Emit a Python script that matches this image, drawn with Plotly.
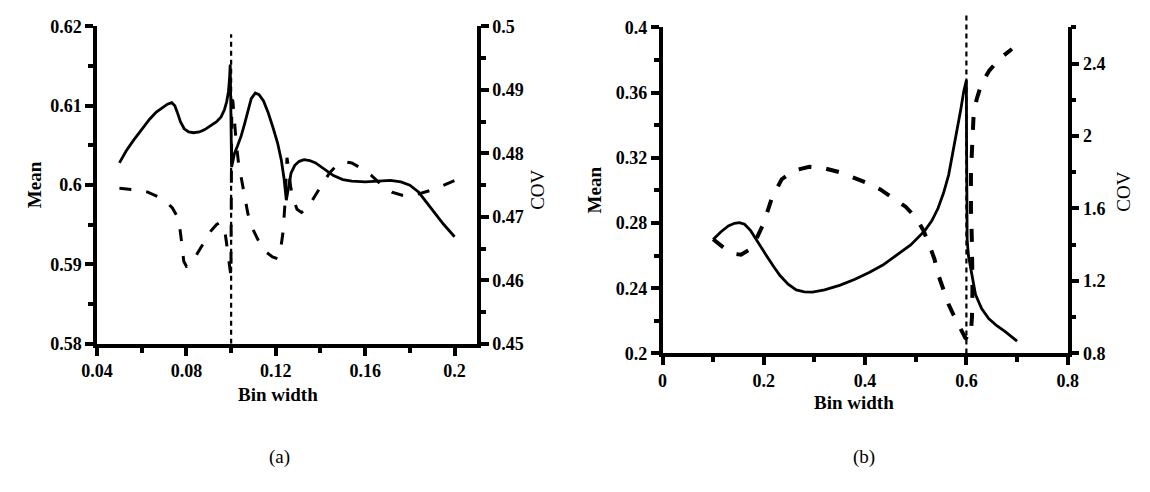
import plotly.graph_objects as go

# ---------------- data: panel (a) ----------------
a_mean_x = [0.0500, 0.0530, 0.0562, 0.0600, 0.0635, 0.0665, 0.0693, 0.0715, 0.0734, 0.0748,
            0.0760, 0.0773, 0.0790, 0.0810, 0.0832, 0.0858, 0.0882, 0.0910, 0.0935, 0.0955,
            0.0970, 0.0980, 0.0988, 0.0993, 0.0996, 0.0998, 0.1000, 0.1002, 0.1008, 0.1015,
            0.1028, 0.1045, 0.1060, 0.1075, 0.1090, 0.1108, 0.1125, 0.1145, 0.1165, 0.1188,
            0.1208, 0.1225, 0.1237, 0.1247, 0.1256, 0.1268, 0.1285, 0.1305, 0.1327, 0.1352,
            0.1378, 0.1415, 0.1458, 0.1500, 0.1540, 0.1600, 0.1660, 0.1713, 0.1760, 0.1800,
            0.1840, 0.1874, 0.1910, 0.1950, 0.2000]
a_mean_y = [0.6028, 0.6043, 0.6056, 0.6070, 0.6083, 0.6092, 0.6098, 0.6102, 0.6104, 0.6100,
            0.6091, 0.6080, 0.6071, 0.6067, 0.6066, 0.6067, 0.6070, 0.6075, 0.6080, 0.6086,
            0.6095, 0.6105, 0.6118, 0.6135, 0.6152, 0.6110, 0.6060, 0.6023, 0.6030, 0.6040,
            0.6049, 0.6062, 0.6077, 0.6095, 0.6109, 0.6116, 0.6114, 0.6106, 0.6092, 0.6072,
            0.6053, 0.6031, 0.6008, 0.5981, 0.5998, 0.6015, 0.6025, 0.6030, 0.6032, 0.6031,
            0.6028, 0.6021, 0.6012, 0.6007, 0.6005, 0.6004, 0.6005, 0.6006, 0.6004, 0.6000,
            0.5991, 0.5979, 0.5965, 0.5951, 0.5935]

a_cov_x = [0.0500, 0.0555, 0.0627, 0.0678, 0.0715, 0.0737, 0.0755, 0.0768, 0.0775, 0.0781,
           0.0788, 0.0800, 0.0815, 0.0838, 0.0862, 0.0885, 0.0910, 0.0935, 0.0950, 0.0962,
           0.0972, 0.0979, 0.0986, 0.0994, 0.0999, 0.1000, 0.1001, 0.1003, 0.1008, 0.1014,
           0.1022, 0.1033, 0.1045, 0.1060, 0.1075, 0.1094, 0.1123, 0.1155, 0.1185, 0.1208,
           0.1222, 0.1232, 0.1241, 0.1247, 0.1250, 0.1256, 0.1266, 0.1278, 0.1295, 0.1315,
           0.1345, 0.1375, 0.1405, 0.1440, 0.1475, 0.1505, 0.1540, 0.1580, 0.1625, 0.1675,
           0.1720, 0.1765, 0.1810, 0.1850, 0.1895, 0.1940, 0.2000]
a_cov_y = [0.4745, 0.4743, 0.4739, 0.4731, 0.4722, 0.4714, 0.4703, 0.4688, 0.4670, 0.4648,
           0.4630, 0.4622, 0.4624, 0.4636, 0.4650, 0.4665, 0.4678, 0.4688, 0.4691, 0.4688,
           0.4677, 0.4660, 0.4638, 0.4618, 0.4607, 0.4680, 0.4800, 0.4885, 0.4882, 0.4855,
           0.4820, 0.4785, 0.4762, 0.4733, 0.4705, 0.4683, 0.4662, 0.4645, 0.4637, 0.4634,
           0.4650, 0.4675, 0.4720, 0.4770, 0.4793, 0.4780, 0.4748, 0.4728, 0.4712, 0.4707,
           0.4715, 0.4733, 0.4750, 0.4769, 0.4782, 0.4787, 0.4785, 0.4777, 0.4766, 0.4750,
           0.4739, 0.4734, 0.4733, 0.4737, 0.4742, 0.4748, 0.4757]
a_optimal = 0.1

# ---------------- data: panel (b) ----------------
b_mean_x = [0.100, 0.115, 0.130, 0.142, 0.152, 0.162, 0.174, 0.190, 0.206, 0.220,
            0.232, 0.248, 0.264, 0.280, 0.296, 0.320, 0.351, 0.380, 0.409, 0.435,
            0.460, 0.490, 0.518, 0.532, 0.544, 0.555, 0.565, 0.573, 0.582, 0.589,
            0.595, 0.600, 0.6003, 0.6006, 0.601, 0.6015, 0.604, 0.6087, 0.618, 0.630,
            0.644, 0.660, 0.676, 0.700]
b_mean_y = [0.2698, 0.2745, 0.2782, 0.2798, 0.2802, 0.2792, 0.2753, 0.2672, 0.2596, 0.2530,
            0.2478, 0.2425, 0.2390, 0.2378, 0.2376, 0.2390, 0.2419, 0.2455, 0.2498, 0.2542,
            0.2596, 0.2665, 0.2753, 0.2815, 0.2890, 0.2985, 0.3095, 0.3224, 0.3370, 0.3498,
            0.3610, 0.3675, 0.3300, 0.3000, 0.2800, 0.2700, 0.2600, 0.2518, 0.2361, 0.2275,
            0.2214, 0.2170, 0.2135, 0.2076]

b_cov_x = [0.100, 0.120, 0.140, 0.155, 0.170, 0.185, 0.200, 0.215, 0.235, 0.260,
           0.290, 0.315, 0.350, 0.375, 0.405, 0.430, 0.457, 0.480, 0.500, 0.515,
           0.528, 0.537, 0.545, 0.553, 0.565, 0.575, 0.590, 0.598, 0.604, 0.609,
           0.611, 0.612, 0.611, 0.609, 0.609, 0.611, 0.614, 0.620, 0.630, 0.645,
           0.665, 0.690]
b_cov_y = [1.43, 1.385, 1.35, 1.345, 1.37, 1.43, 1.52, 1.65, 1.76, 1.81,
           1.83, 1.825, 1.80, 1.775, 1.74, 1.705, 1.655, 1.61, 1.55, 1.48,
           1.39, 1.32, 1.23, 1.16, 1.07, 1.01, 0.92, 0.885, 0.876, 0.92,
           1.00, 1.15, 1.40, 1.60, 1.80, 1.95, 2.10, 2.20, 2.29, 2.36,
           2.425, 2.48]
b_optimal = 0.6

# ---------------- ticks ----------------
a_x_ticks = [0.04, 0.08, 0.12, 0.16, 0.2]
a_x_text = ["0.04", "0.08", "0.12", "0.16", "0.2"]
a_mean_ticks = [0.58, 0.59, 0.6, 0.61, 0.62]
a_mean_text = ["0.58", "0.59", "0.6", "0.61", "0.62"]
a_cov_ticks = [0.45, 0.46, 0.47, 0.48, 0.49, 0.5]
a_cov_text = ["0.45", "0.46", "0.47", "0.48", "0.49", "0.5"]
b_x_ticks = [0, 0.2, 0.4, 0.6, 0.8]
b_x_text = ["0", "0.2", "0.4", "0.6", "0.8"]
b_mean_ticks = [0.2, 0.24, 0.28, 0.32, 0.36, 0.4]
b_mean_text = ["0.2", "0.24", "0.28", "0.32", "0.36", "0.4"]
b_cov_ticks = [0.8, 1.2, 1.6, 2.0, 2.4]
b_cov_text = ["0.8", "1.2", "1.6", "2", "2.4"]

FONT = "Liberation Serif"
tickfont = dict(family=FONT, size=18, color="black", weight="bold")

fig = go.Figure()
fig.add_trace(go.Scatter(x=a_mean_x, y=a_mean_y, mode="lines", xaxis="x", yaxis="y",
                         line=dict(color="black", width=2.8), showlegend=False))
fig.add_trace(go.Scatter(x=a_cov_x, y=a_cov_y, mode="lines", xaxis="x", yaxis="y2",
                         line=dict(color="black", width=3, dash="12px,15px"), showlegend=False))
fig.add_trace(go.Scatter(x=b_mean_x, y=b_mean_y, mode="lines", xaxis="x2", yaxis="y3",
                         line=dict(color="black", width=2.8), showlegend=False))
fig.add_trace(go.Scatter(x=b_cov_x, y=b_cov_y, mode="lines", xaxis="x2", yaxis="y4",
                         line=dict(color="black", width=4, dash="13px,15px"), showlegend=False))


def axis_common(**kw):
    d = dict(showline=True, linewidth=3.5, linecolor="black", ticks="outside", ticklen=8,
             tickwidth=3.5, tickcolor="black", showgrid=False, zeroline=False,
             tickfont=tickfont, tickmode="array")
    d.update(kw)
    return d


def minor(dt, t0):
    return dict(dtick=dt, tick0=t0, ticks="outside", ticklen=5, tickwidth=3.5, tickcolor="black",
                showgrid=False)


fig.update_layout(
    width=1150, height=492, margin=dict(l=0, r=0, t=0, b=0),
    paper_bgcolor="white", plot_bgcolor="white",
    xaxis=axis_common(domain=[0.0722, 0.4104], range=[0.04, 0.21], anchor="y",
                      tickvals=a_x_ticks, ticktext=a_x_text, minor=minor(0.02, 0.04)),
    yaxis=axis_common(domain=[0.2927, 0.9654], range=[0.58, 0.62001], anchor="x",
                      tickvals=a_mean_ticks, ticktext=a_mean_text, minor=minor(0.005, 0.58)),
    yaxis2=axis_common(range=[0.45, 0.50001], anchor="x", overlaying="y", side="right",
                       tickvals=a_cov_ticks, ticktext=a_cov_text, minor=minor(0.005, 0.45)),
    xaxis2=axis_common(domain=[0.5757, 0.9365], range=[0, 0.8], anchor="y3",
                       tickvals=b_x_ticks, ticktext=b_x_text, minor=minor(0.1, 0)),
    yaxis3=axis_common(domain=[0.2724, 0.9634], range=[0.2, 0.40001], anchor="x2",
                       tickvals=b_mean_ticks, ticktext=b_mean_text, minor=minor(0.02, 0.2)),
    yaxis4=axis_common(range=[0.8, 2.6], anchor="x2", overlaying="y3", side="right",
                       tickvals=b_cov_ticks, ticktext=b_cov_text, minor=minor(0.2, 0.8)),
)

# optimal bin-width reference lines
fig.add_shape(type="line", xref="x", yref="y", x0=a_optimal, x1=a_optimal, y0=0.58, y1=0.619,
              line=dict(color="black", width=2.2, dash="5px,4px"))
fig.add_shape(type="line", xref="x2", yref="paper", x0=b_optimal, x1=b_optimal, y0=0.2724, y1=0.99,
              line=dict(color="black", width=2.2, dash="5px,4px"))

titlefont = dict(family=FONT, size=19, color="black", weight="bold")
covfont = dict(family=FONT, size=19, color="black")
ann = [
    dict(text="Mean", x=19 / 1150, y=1 - 182 / 492, textangle=-90, font=titlefont, yanchor="middle"),
    dict(text="COV", x=534 / 1150, y=1 - 187 / 492, textangle=-90, font=covfont, yanchor="middle"),
    dict(text="Bin width", x=268 / 1150, y=1 - 388 / 492, font=titlefont, yanchor="top"),
    dict(text="Mean", x=592 / 1150, y=1 - 188 / 492, textangle=-90, font=titlefont, yanchor="middle"),
    dict(text="COV", x=1134 / 1150, y=1 - 189 / 492, textangle=-90, font=covfont, yanchor="middle"),
    dict(text="Bin width", x=858 / 1150, y=1 - 396 / 492, font=titlefont, yanchor="top"),
    dict(text="(a)", x=270 / 1150, y=1 - 466 / 492, font=dict(family=FONT, size=19, color="black"),
         yanchor="middle"),
    dict(text="(b)", x=868 / 1150, y=1 - 466 / 492, font=dict(family=FONT, size=19, color="black"),
         yanchor="middle"),
]
for a in ann:
    fig.add_annotation(xref="paper", yref="paper", showarrow=False, xanchor="center", **a)

fig.write_html("out.html", post_script="document.body.style.margin='0';")
